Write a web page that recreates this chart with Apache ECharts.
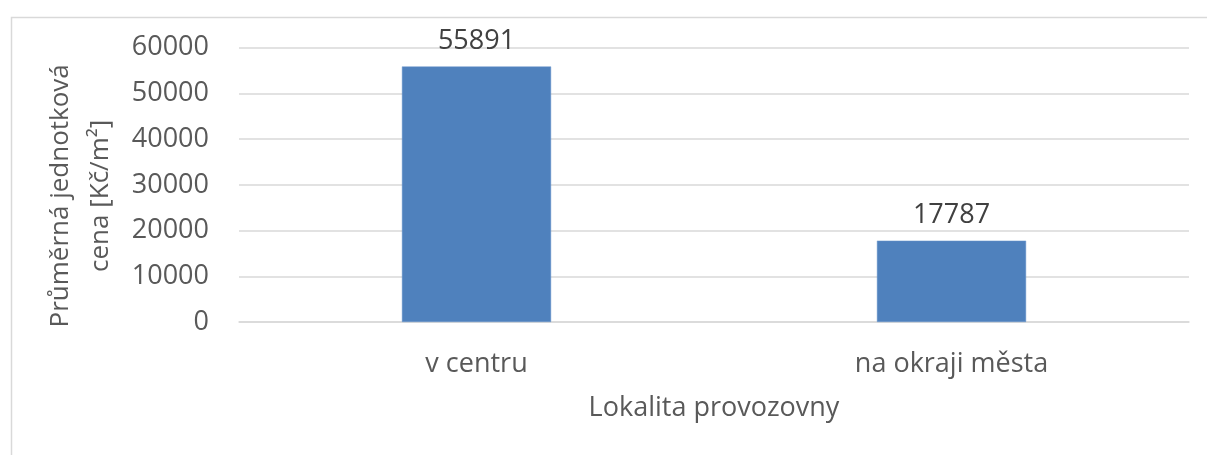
<!DOCTYPE html>
<html>
<head>
<meta charset="utf-8">
<script src="https://cdn.jsdelivr.net/npm/echarts@6/dist/echarts.min.js"></script>
<style>html,body{margin:0;padding:0;background:#fff}#c{width:1207px;height:455px}</style>
</head>
<body>
<div id="c"></div>
<script>
const categories = ['v centru', 'na okraji města'];
const values = [55891, 17787];
const yTicks = { min: 0, max: 60000, interval: 10000 };
const yName = 'Průměrná jednotková\ncena [Kč/m²]';
const xName = 'Lokalita provozovny';

const FONT = '"Open Sans", "Noto Sans", sans-serif';
const chart = echarts.init(document.getElementById('c'), null, { renderer: 'canvas' });
chart.setOption({
  animation: false,
  backgroundColor: '#fff',
  graphic: [{
    type: 'rect', left: 9, top: 15, shape: { width: 1300, height: 500 },
    style: { fill: 'none', stroke: '#d9d9d9', lineWidth: 1.5 }, silent: true, z: -1
  }],
  grid: { left: 239, right: 18, top: 47.7, bottom: 133, containLabel: false },
  xAxis: {
    type: 'category', data: categories,
    name: xName, nameLocation: 'middle', nameGap: 73,
    nameTextStyle: { fontFamily: FONT, fontSize: 27, color: '#595959' },
    axisLine: { show: true, lineStyle: { color: '#d9d9d9', width: 1.5 } },
    axisTick: { show: false },
    axisLabel: { margin: 29, fontFamily: FONT, fontSize: 27, color: '#595959' }
  },
  yAxis: {
    type: 'value', min: yTicks.min, max: yTicks.max, interval: yTicks.interval,
    name: yName, nameLocation: 'middle', nameGap: 116, nameRotate: 90,
    nameTextStyle: { fontFamily: FONT, fontSize: 26, color: '#595959', lineHeight: 40, padding: [0, 22, 0, 0] },
    axisLine: { show: false }, axisTick: { show: false },
    splitLine: { lineStyle: { color: '#d9d9d9', width: 1.5 } },
    axisLabel: { margin: 30, fontFamily: FONT, fontSize: 27, color: '#595959', formatter: v => String(v) }
  },
  series: [{
    type: 'bar', data: values, barWidth: '31.4%',
    itemStyle: { color: '#4f81bd', borderColor: '#6a96cc', borderWidth: 0.5 },
    label: { show: true, position: 'top', distance: 12, fontFamily: FONT, fontSize: 27, color: '#404040' }
  }]
});
</script>
</body>
</html>
